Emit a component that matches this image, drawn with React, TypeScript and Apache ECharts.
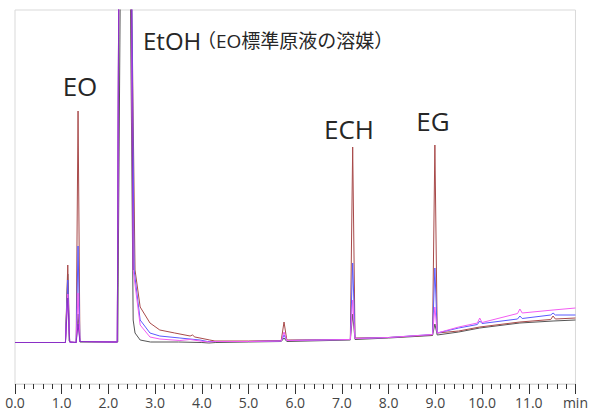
import React, { useEffect, useRef } from "react";
import * as echarts from "echarts";

// x: retention time (min), y: detector signal (arbitrary units)
const tickLabels = ["0.0", "1.0", "2.0", "3.0", "4.0", "5.0", "6.0", "7.0", "8.0", "9.0", "10.0", "11.0", "min"];

const blackTrace = [
  [0, 41.5], [1.08, 41.5], [1.13, 110], [1.16, 43], [1.2, 41.5], [1.31, 41.5], [1.35, 70], [1.39, 42],
  [2.2, 42], [2.27, 500], [2.45, 500], [2.53, 64], [2.57, 51], [2.68, 44], [2.9, 42], [3.5, 42],
  [4.0, 41.5], [4.15, 41], [4.3, 41.5], [5.0, 42], [5.7, 42.5], [5.76, 46], [5.82, 42.5],
  [7.18, 44], [7.23, 70], [7.28, 44.5], [8.0, 46], [8.94, 48.5], [8.99, 60], [9.04, 49],
  [9.5, 52], [9.95, 56], [10.81, 61], [11.52, 63], [12, 64],
];

const brownTrace = [
  [0, 41.5], [1.08, 41.5], [1.13, 119], [1.17, 42], [1.31, 41.5], [1.35, 273], [1.39, 42.5],
  [2.19, 42], [2.23, 500], [2.47, 500], [2.57, 114], [2.68, 77], [2.89, 61], [3.1, 54], [3.42, 51],
  [3.75, 48], [3.8, 49], [3.85, 47], [3.96, 46], [4.17, 44], [4.28, 43], [5.0, 43], [5.7, 43.5],
  [5.76, 62], [5.82, 44], [7.18, 44.5], [7.23, 237], [7.28, 46], [8.0, 46.5], [8.94, 49],
  [8.99, 239], [9.04, 51], [9.5, 53], [9.95, 57], [10.81, 62], [11.47, 64.5], [11.52, 68],
  [11.57, 65], [12, 66],
];

const blueTrace = [
  [0, 41.5], [1.08, 41.5], [1.13, 104], [1.17, 42], [1.31, 41.5], [1.35, 138], [1.39, 42.5],
  [2.19, 42], [2.23, 500], [2.48, 500], [2.55, 114], [2.68, 64], [2.89, 51], [3.1, 48], [3.53, 46],
  [3.96, 44], [4.12, 42.5], [4.28, 42.5], [5.0, 42.5], [5.7, 43], [5.76, 49], [5.82, 43.5],
  [7.18, 44.5], [7.23, 121], [7.28, 45.5], [8.0, 46.5], [8.94, 49.5], [8.99, 116], [9.04, 51],
  [9.5, 56], [9.9, 59.5], [9.95, 63], [10.0, 60.5], [10.76, 65], [10.81, 68], [10.86, 65.5],
  [11.47, 69], [11.52, 71], [11.57, 69], [12, 69],
];

const magentaTrace = [
  [0, 41.5], [1.08, 41.5], [1.13, 90], [1.17, 42], [1.31, 41.5], [1.35, 91], [1.39, 42.5],
  [2.19, 42], [2.23, 500], [2.47, 500], [2.53, 114], [2.68, 59], [2.89, 47], [3.1, 45], [3.53, 43.5],
  [3.75, 44.5], [3.96, 43], [4.15, 42], [4.28, 42.5], [5.0, 42.5], [5.7, 43], [5.76, 52], [5.82, 43.5],
  [7.18, 44.5], [7.23, 84], [7.28, 45.5], [8.0, 46.5], [8.94, 49.5], [8.99, 77], [9.04, 51],
  [9.5, 57], [9.9, 61], [9.95, 66], [10.0, 61.5], [10.76, 70.5], [10.81, 75], [10.86, 71],
  [11.52, 74], [12, 76],
];

const purpleTrace = [
  [0, 41.5], [1.08, 41.5], [1.13, 86], [1.17, 42], [1.31, 41.5], [1.35, 60], [1.39, 42.5],
  [2.19, 42], [2.23, 500], [2.48, 500], [2.53, 114],
];

const traces = [
  { name: "black", color: "#555555", data: blackTrace },
  { name: "brown", color: "#a84a4a", data: brownTrace },
  { name: "blue", color: "#5a5aff", data: blueTrace },
  { name: "magenta", color: "#f25cf2", data: magentaTrace },
  { name: "purple", color: "#8a2fc6", data: purpleTrace },
];

const peakLabels = [
  { text: "EO", x: 80, y: 86, size: 26, align: "center" },
  { text: "EtOH", x: 143, y: 40, size: 24, align: "left" },
  { text: "ECH", x: 349, y: 129, size: 26, align: "center" },
  { text: "EG", x: 433, y: 121, size: 26, align: "center" },
];
const noteLabel = "（EO標準原液の溶媒）";

export default function App() {
  const ref = useRef<HTMLDivElement>(null);
  useEffect(() => {
    document.body.style.margin = "0";
    const chart = echarts.init(ref.current as HTMLDivElement, null, { renderer: "svg" });
    const font = "'Open Sans', 'Noto Sans CJK JP', sans-serif";
    chart.setOption({
      animation: false,
      backgroundColor: "#ffffff",
      grid: {
        left: 15,
        right: 15,
        top: 10,
        bottom: 28,
        show: true,
        borderColor: "#d9d9d9",
        borderWidth: 1,
      },
      xAxis: {
        type: "value",
        min: 0,
        max: 12,
        interval: 1,
        axisLine: { show: true, lineStyle: { color: "#d9d9d9", width: 1 } },
        axisTick: { show: true, length: 10, lineStyle: { color: "#333", width: 1 } },
        minorTick: { show: true, splitNumber: 5, length: 5, lineStyle: { color: "#333", width: 1 } },
        splitLine: { show: false },
        axisLabel: {
          formatter: (v: number) => tickLabels[Math.round(v)] ?? "",
          color: "#444",
          fontSize: 14,
          margin: 11,
          fontFamily: font,
        },
      },
      yAxis: { type: "value", min: 0, max: 374, show: false },
      series: traces.map((t) => ({
        name: t.name,
        type: "line",
        data: t.data,
        showSymbol: false,
        symbol: "none",
        clip: true,
        lineStyle: { color: t.color, width: 1 },
        itemStyle: { color: t.color },
      })),
      graphic: [
        ...peakLabels.map((l) => ({
          type: "text",
          z: 100,
          style: {
            text: l.text,
            x: l.x,
            y: l.y,
            fill: "#262626",
            font: `${l.size}px ${font}`,
            textAlign: l.align,
            textVerticalAlign: "middle",
          },
        })),
        {
          type: "text",
          z: 100,
          style: {
            text: noteLabel,
            x: 197,
            y: 41,
            fill: "#262626",
            font: `19px ${font}`,
            textAlign: "left",
            textVerticalAlign: "middle",
          },
        },
      ],
    });
    return () => chart.dispose();
  }, []);
  return <div ref={ref} style={{ width: 591, height: 412 }} />;
}
